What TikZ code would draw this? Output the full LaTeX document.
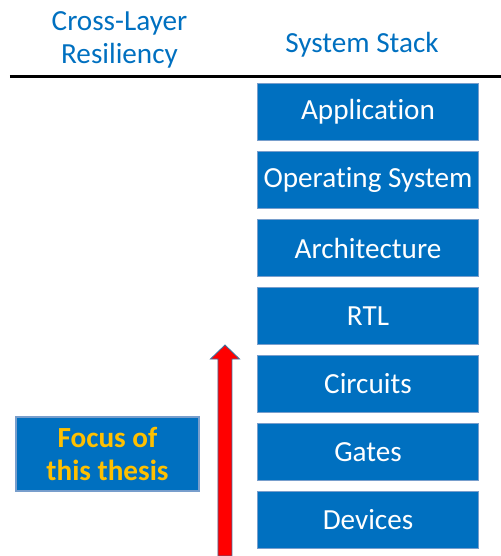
\documentclass[tikz,border=0pt]{standalone}
\usepackage{fontspec}
\setmainfont{Carlito}[Ligatures=NoCommon]
\usetikzlibrary{positioning}

\definecolor{stackblue}{RGB}{0,112,192}
\definecolor{edgeblue}{RGB}{120,158,204}
\definecolor{focusgold}{RGB}{255,192,0}
\definecolor{arrowedge}{RGB}{65,113,156}

\tikzset{
  layer/.style={shape=rectangle,fill=stackblue,draw=edgeblue,line width=0.6pt,
    minimum width=4.42cm,minimum height=1.14cm,inner sep=0pt,
    text=white,font=\fontsize{16.6}{18.7}\selectfont},
  head/.style={align=center,text=stackblue,font=\fontsize{16.6}{18.7}\selectfont},
}

\begin{document}
\begin{tikzpicture}[x=0.02cm,y=-0.02cm]
\useasboundingbox (0,0) rectangle (501,556);

\node[head] (h0) at (119.5,39.5) {Cross-Layer\\Resiliency};
\node[head] (h1) at (362,45) {System Stack};
\coordinate (r0) at (10,76);
\coordinate (r1) at (501,76);
\draw[line width=1.7pt] (r0) -- (r1);

\node[layer] (0) at (368,112) {Application};
\node[layer] (1) at (368,180) {Operating System};
\node[layer] (2) at (368,248) {Architecture};
\node[layer] (3) at (368,316) {RTL};
\node[layer] (4) at (368,384) {Circuits};
\node[layer] (5) at (368,452) {Gates};
\node[layer] (6) at (368,520) {Devices};

\node[layer,minimum width=3.66cm,minimum height=1.48cm,align=center,
  text=focusgold,font=\fontsize{16.6}{18.7}\selectfont\bfseries] (f) at (107.5,454) {Focus of\\this thesis};

\filldraw[fill=red,draw=arrowedge,line width=0.5pt]
  (225,345) -- (239.5,359) -- (232,359) -- (232,556) -- (218,556) -- (218,359) -- (210.5,359) -- cycle;
\end{tikzpicture}
\end{document}
